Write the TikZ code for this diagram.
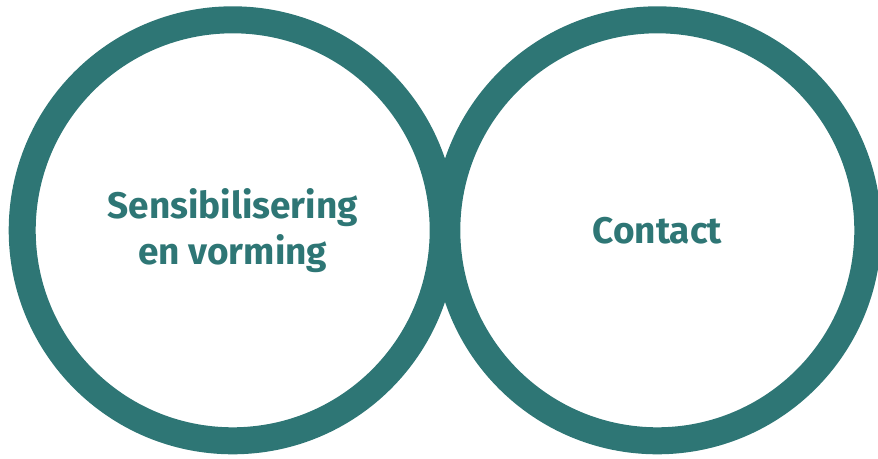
\documentclass[tikz,border=0pt]{standalone}
\usepackage{fontspec}
\setmainfont{Fira Sans}
\usepackage{xcolor}
\definecolor{ringTeal}{RGB}{46,118,117}
\tikzset{
    ring/.style={draw=ringTeal, line width=27pt},
    ringtext/.style={text=ringTeal, font=\fontsize{37}{46}\selectfont\bfseries, align=center}
}
\def\leftring{(232.7,230.3) circle (210.5pt)}
\def\rightring{(657.3,230.3) circle (210.5pt)}

\begin{document}
\begin{tikzpicture}[x=1pt,y=-1pt]
    % Fix the page to the reference size
    \useasboundingbox (0,0) rectangle (878,458);

    % Draw the two rings
    \draw[ring] \leftring \rightring;

    \node[ringtext] (vorming) at (232.7,230.3) {Sensibilisering\\en vorming};
    \node[ringtext] (contact) at (657.3,230.3) {Contact};
\end{tikzpicture}
\end{document}
